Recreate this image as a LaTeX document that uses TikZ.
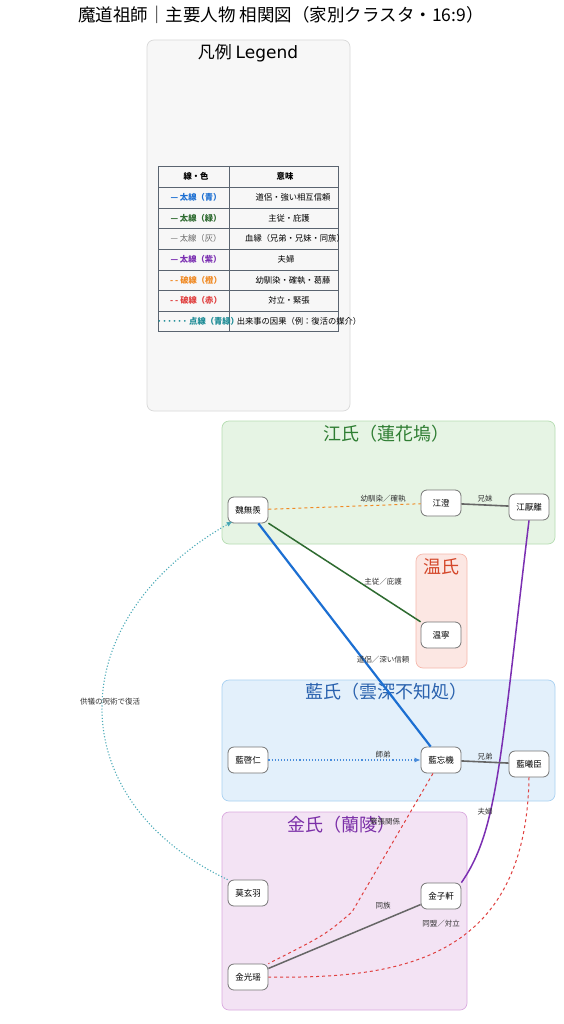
\documentclass[tikz,border=0pt]{standalone}
\usepackage{fontspec}
\setmainfont{Noto Sans CJK JP}
\newfontfamily\dejavu{DejaVu Sans}
\usetikzlibrary{arrows.meta}
\definecolor{cblue}{HTML}{1C6FD2}
\definecolor{cgreen}{HTML}{2E6B30}
\definecolor{cgray}{HTML}{666666}
\definecolor{cpurple}{HTML}{7B2FB2}
\definecolor{corange}{HTML}{F08A24}
\definecolor{cred}{HTML}{E0403F}
\definecolor{cteal}{HTML}{4AAAB8}
\definecolor{cdteal}{HTML}{1A8A94}
\definecolor{jiangfill}{HTML}{E6F4E4}
\definecolor{jiangdraw}{HTML}{B6DDB2}
\definecolor{jiangtxt}{HTML}{2E7D32}
\definecolor{wenfill}{HTML}{FCE7E3}
\definecolor{wendraw}{HTML}{F6B8AC}
\definecolor{wentxt}{HTML}{D4472A}
\definecolor{lanfill}{HTML}{E3F0FB}
\definecolor{landraw}{HTML}{A9D1F2}
\definecolor{lantxt}{HTML}{2A62AE}
\definecolor{jinfill}{HTML}{F3E3F4}
\definecolor{jindraw}{HTML}{DAAADF}
\definecolor{jintxt}{HTML}{7B2FA8}
\definecolor{tabline}{HTML}{5A6470}
\tikzset{
  person/.style={draw=cgray!90, fill=white, rounded corners=6pt, line width=0.8pt,
    minimum width=40pt, minimum height=26pt, inner sep=1pt, font=\fontsize{8.5}{10}\selectfont},
  clusterbox/.style={rounded corners=7pt, line width=0.7pt},
  ctitle/.style={font=\fontsize{18}{20}\selectfont},
  elabel/.style={font=\fontsize{7.5}{9}\selectfont, text=black!80, inner sep=1pt},
  tabtxt/.style={font=\fontsize{8.3}{9}\selectfont, inner sep=0pt},
  tabkey/.style={font=\bfseries\fontsize{8.3}{9}\selectfont, inner sep=0pt},
}
\begin{document}
\begin{tikzpicture}[x=1pt,y=-1pt]
\useasboundingbox (0,0) rectangle (564,1024);
\fill[white] (0,0) rectangle (564,1024);
% title
\node[font=\fontsize{17.5}{20}\selectfont] (title) at (281,15) {魔道祖師｜主要人物 相関図（家別クラスタ・16:9）};
% legend
\draw[clusterbox, fill=black!3, draw=black!15] (147,40) rectangle (350,411);
\node[font=\fontsize{17}{19}\selectfont] (legtitle) at (248,53) {凡例 {\dejavu Legend}};
\draw[tabline, line width=0.6pt] (158,166) rectangle (338,331);
\draw[tabline, line width=0.6pt] (229,166) -- (229,331);
\foreach \yy in {187,208,228,249,270,290,311} {\draw[tabline, line width=0.6pt] (158,\yy) -- (338,\yy);}
\node[tabkey] (h1) at (196,176.5) {線・色};
\node[tabkey] (h2) at (285,176.5) {意味};
\node[tabkey, text=cblue] (l1) at (196,197.5) {— 太線（青）};
\node[tabtxt] (m1) at (293,197.5) {道侶・強い相互信頼};
\node[tabkey, text=cgreen] (l2) at (196,218) {— 太線（緑）};
\node[tabtxt] (m2) at (289,218) {主従・庇護};
\node[tabtxt, text=cgray] (l3) at (196,238.5) {— 太線（灰）};
\node[tabtxt] (m3) at (295,238.5) {血縁（兄弟・兄妹・同族）};
\node[tabkey, text=cpurple] (l4) at (196,259.5) {— 太線（紫）};
\node[tabtxt] (m4) at (286,259.5) {夫婦};
\node[tabkey, text=corange] (l5) at (196,280) {- - 破線（橙）};
\node[tabtxt] (m5) at (293,280) {幼馴染・確執・葛藤};
\node[tabkey, text=cred] (l6) at (196,300.5) {- - 破線（赤）};
\node[tabtxt] (m6) at (289,300.5) {対立・緊張};
\node[tabkey, text=cdteal] (l7) at (198,321) {······ 点線（青緑）};
\node[tabtxt] (m7) at (299,321) {出来事の因果（例：復活の媒介）};
% clusters
\draw[clusterbox, fill=jiangfill, draw=jiangdraw] (222,421) rectangle (555,544);
\node[ctitle, text=jiangtxt] (tjiang) at (386,434) {江氏（蓮花塢）};
\draw[clusterbox, fill=wenfill, draw=wendraw] (416,554) rectangle (467,668);
\node[ctitle, text=wentxt] (twen) at (441,567) {温氏};
\draw[clusterbox, fill=lanfill, draw=landraw] (222,680) rectangle (555,801);
\node[ctitle, text=lantxt] (tlan) at (386,692) {藍氏（雲深不知処）};
\draw[clusterbox, fill=jinfill, draw=jindraw] (222,812) rectangle (467,1010);
\node[ctitle, text=jintxt] (tjin) at (341,825) {金氏（蘭陵）};
% persons
\node[person] (wwx) at (248,510) {魏無羨};
\node[person] (jc) at (441,503) {江澄};
\node[person] (jyl) at (529,507) {江厭離};
\node[person] (wn) at (441,635) {温寧};
\node[person] (lqr) at (248,760) {藍啓仁};
\node[person] (lwj) at (441,760) {藍忘機};
\node[person] (lxc) at (529,764) {藍曦臣};
\node[person] (mxy) at (248,893) {莫玄羽};
\node[person] (jzx) at (441,896) {金子軒};
\node[person] (jgy) at (248,977) {金光瑶};
% edges
\draw[corange, dashed, line width=1pt] (wwx) -- (jc);
\node[elabel] (e1) at (383,499) {幼馴染／確執};
\draw[cgray, line width=1.6pt] (jc) -- (jyl);
\node[elabel] (e2) at (485,499) {兄妹};
\draw[cgreen, line width=1.5pt] (wwx) -- (wn);
\node[elabel] (e3) at (383,582) {主従／庇護};
\draw[cblue, line width=2.2pt] (wwx) -- (lwj);
\node[elabel] (e4) at (383,660) {道侶／深い信頼};
\draw[cpurple, line width=1.5pt] (jyl.south) .. controls (500,760) and (498,830) .. (jzx.north east);
\node[elabel] (e5) at (485,812) {夫婦};
\draw[cblue!80, dotted, line width=1.1pt, -{Latex[length=6pt,width=5pt]}] (lqr) -- (lwj);
\node[elabel] (e6) at (383,755) {師弟};
\draw[cgray, line width=1.6pt] (lwj) -- (lxc);
\node[elabel] (e7) at (485,757) {兄弟};
\draw[cred, dashed, line width=1pt] ([xshift=-8pt]lwj.south) -- (352,912) .. controls (325,935) .. (jgy.north east);
\node[elabel] (e8) at (385,822) {緊張関係};
\draw[cred, dashed, line width=1pt] (lxc.south) .. controls (526,960) and (400,979) .. (jgy.east);
\node[elabel] (e9) at (441,924) {同盟／対立};
\draw[cgray, line width=1.5pt] (jzx) -- (jgy);
\node[elabel] (e10) at (383,906) {同族};
\draw[cteal, dotted, line width=1.1pt, -{Latex[length=6pt,width=5pt,fill=cdteal]}] (mxy.north west) .. controls (60,800) and (60,620) .. ([xshift=5pt,yshift=2pt]wwx.south west);
\node[elabel] (e11) at (110,702) {供犠の呪術で復活};
\end{tikzpicture}
\end{document}
